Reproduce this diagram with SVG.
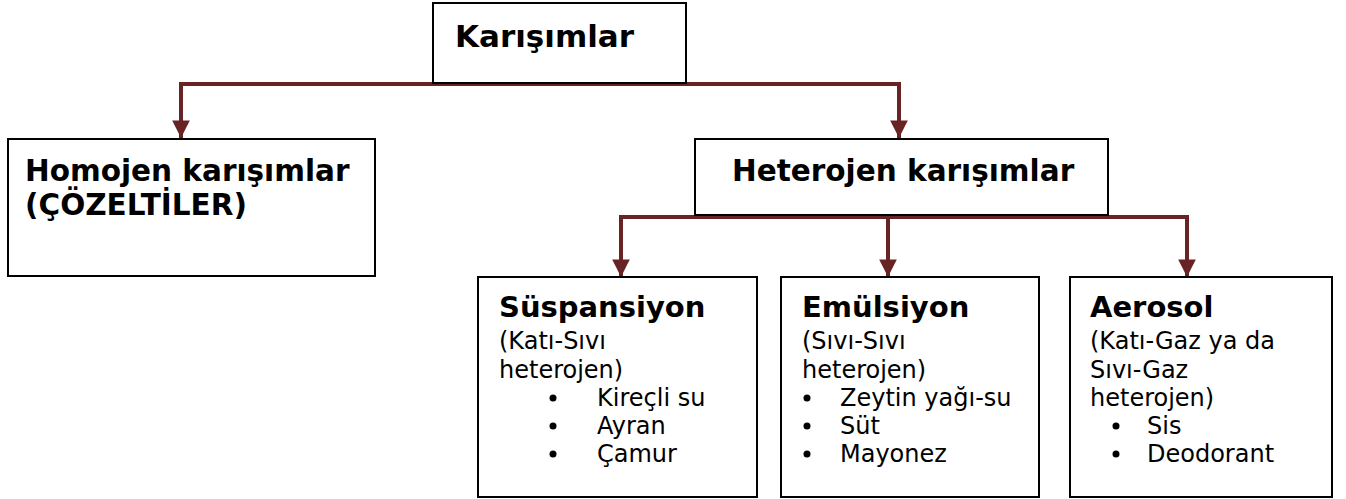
<svg xmlns="http://www.w3.org/2000/svg" width="1346" height="499" viewBox="0 0 1346 499">
<style>
.box{fill:#fff;stroke:#000;stroke-width:2}
.con{fill:none;stroke:#682424;stroke-width:4}
.t{font-family:"DejaVu Sans",Verdana,sans-serif;fill:#000}
.b{font-weight:bold}
.h1{font-size:31px}
.h2{font-size:29.5px}
.h3{font-size:29px}
.r{font-size:24px}
</style>
<defs>
<marker id="ah" viewBox="0 0 10 10" refX="10" refY="5" markerWidth="4.4" markerHeight="4.4" markerUnits="strokeWidth" orient="auto-start-reverse">
<path d="M0,0 L10,5 L0,10 z" fill="#682424"/>
</marker>
</defs>
<g id="connectors">
<path class="con" d="M181,138 V84 H899 V138" marker-start="url(#ah)" marker-end="url(#ah)"/>
<path class="con" d="M621,277 V217 H1187 V277" marker-start="url(#ah)" marker-end="url(#ah)"/>
<path class="con" d="M888,217 V277" marker-end="url(#ah)"/>
</g>
<g id="karisimlar">
<rect class="box" x="433" y="3" width="253" height="80"/>
<text class="t b h1" x="455" y="47">Karışımlar</text>
</g>
<g id="homojen">
<rect class="box" x="8" y="139" width="367" height="137"/>
<text class="t b h2" x="25" y="181">Homojen karışımlar</text>
<text class="t b h2" x="25" y="215">(ÇÖZELTİLER)</text>
</g>
<g id="heterojen">
<rect class="box" x="695" y="139" width="413" height="76"/>
<text class="t b h2" x="732" y="181">Heterojen karışımlar</text>
</g>
<g id="suspansiyon">
<rect class="box" x="478" y="277" width="279" height="220"/>
<text class="t b h3" x="499" y="317">Süspansiyon</text>
<text class="t r" x="499" y="349">(Katı-Sıvı</text>
<text class="t r" x="499" y="378">heterojen)</text>
<circle cx="553" cy="398" r="3.5"/>
<circle cx="553" cy="426" r="3.5"/>
<circle cx="553" cy="454" r="3.5"/>
<text class="t r" x="597" y="406">Kireçli su</text>
<text class="t r" x="597" y="434">Ayran</text>
<text class="t r" x="597" y="462">Çamur</text>
</g>
<g id="emulsiyon">
<rect class="box" x="781" y="277" width="258" height="220"/>
<text class="t b h3" x="802" y="317">Emülsiyon</text>
<text class="t r" x="802" y="349">(Sıvı-Sıvı</text>
<text class="t r" x="802" y="378">heterojen)</text>
<circle cx="807" cy="398" r="3.5"/>
<circle cx="807" cy="426" r="3.5"/>
<circle cx="807" cy="454" r="3.5"/>
<text class="t r" x="840" y="406">Zeytin yağı-su</text>
<text class="t r" x="840" y="434">Süt</text>
<text class="t r" x="840" y="462">Mayonez</text>
</g>
<g id="aerosol">
<rect class="box" x="1070" y="277" width="262" height="220"/>
<text class="t b h3" x="1090" y="317">Aerosol</text>
<text class="t r" x="1090" y="349">(Katı-Gaz ya da</text>
<text class="t r" x="1090" y="378">Sıvı-Gaz</text>
<text class="t r" x="1090" y="406">heterojen)</text>
<circle cx="1116" cy="426" r="3.5"/>
<circle cx="1116" cy="454" r="3.5"/>
<text class="t r" x="1147" y="434">Sis</text>
<text class="t r" x="1147" y="462">Deodorant</text>
</g>
</svg>
